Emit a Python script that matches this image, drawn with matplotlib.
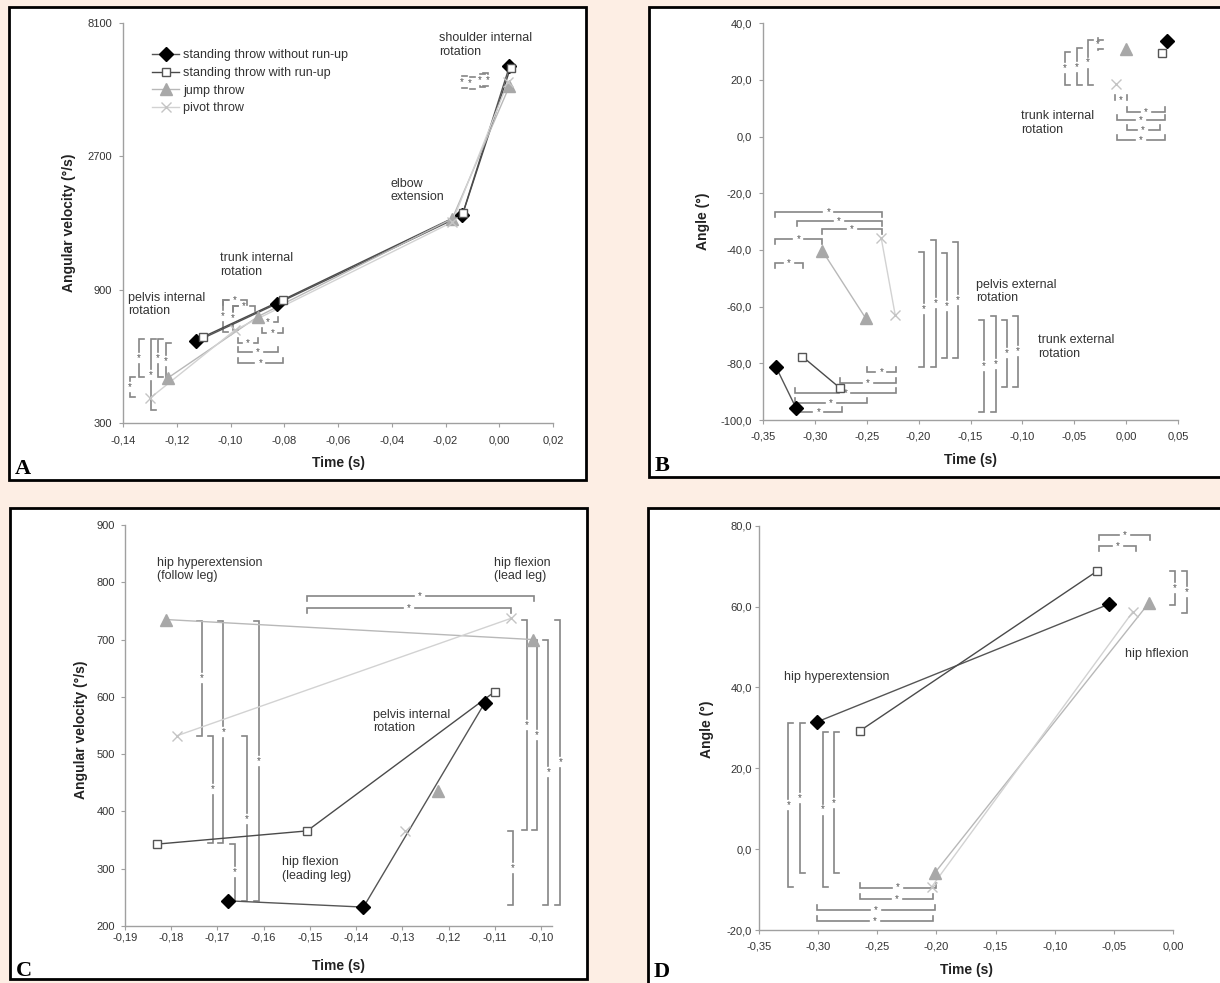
"""Peak angular velocities and joint angles for four handball throwing techniques."""

import matplotlib
matplotlib.use("Agg")
import matplotlib.pyplot as plt
import matplotlib.ticker as mticker
from matplotlib.patches import Rectangle
import numpy as np

W, H = 1220, 983
BG = "#fdeee4"
plt.rcParams.update({
    "font.family": ["Liberation Sans", "DejaVu Sans"],
    "font.size": 9,
    "axes.edgecolor": "#a0a0a0",
    "axes.linewidth": 1.0,
    "xtick.color": "#a0a0a0",
    "ytick.color": "#a0a0a0",
    "xtick.labelcolor": "#333333",
    "ytick.labelcolor": "#333333",
    "xtick.labelsize": 8,
    "ytick.labelsize": 8,
})

SERIES = ["standing throw without run-up", "standing throw with run-up",
          "jump throw", "pivot throw"]

# Panel A: pelvis, trunk, elbow, shoulder peak angular velocity
a_time_norun = [-0.1127, -0.0826, -0.0138, 0.0038]
a_vel_norun = [587, 802, 1661, 5683]
a_time_runup = [-0.1102, -0.0804, -0.0135, 0.0042]
a_vel_runup = [609, 828, 1690, 5620]
a_time_jump = [-0.1233, -0.0898, -0.0175, 0.0038]
a_vel_jump = [434, 720, 1615, 4830]
a_time_pivot = [-0.1300, -0.0983, -0.0175, 0.0033]
a_vel_pivot = [367, 645, 1570, 5000]

# Panel B: pelvis external rot., trunk external rot., trunk internal rot. (angle)
b_time_norun = [-0.3376, -0.3180, 0.0394]
b_ang_norun = [-81.2, -95.9, 33.9]
b_time_runup = [-0.3121, -0.2762, 0.0350]
b_ang_runup = [-77.6, -88.6, 29.4]
b_time_jump = [-0.2930, -0.2510, -0.0003]
b_ang_jump = [-40.2, -64.1, 30.8]
b_time_pivot = [-0.2360, -0.2226, -0.0100]
b_ang_pivot = [-35.9, -62.9, 18.6]

# Panel C: hip hyperextension (follow leg), hip flexion (lead leg), pelvis int. rot.
c_time_norun = [-0.1678, -0.1384, -0.1122]
c_vel_norun = [244, 233, 589]
c_time_runup = [-0.1830, -0.1506, -0.1100]
c_vel_runup = [343, 366, 609]
c_time_jump = [-0.1812, -0.1017, -0.1222]
c_vel_jump = [735, 700, 436]
c_time_pivot = [-0.1788, -0.1065, -0.1295]
c_vel_pivot = [532, 737, 366]

# Panel D: hip hyperextension, hip flexion (angle)
d_time_norun = [-0.3007, -0.0541]
d_ang_norun = [31.5, 60.6]
d_time_runup = [-0.2645, -0.0640]
d_ang_runup = [29.3, 68.8]
d_time_jump = [-0.2012, -0.0206]
d_ang_jump = [-5.8, 60.8]
d_time_pivot = [-0.2040, -0.0340]
d_ang_pivot = [-9.3, 58.7]

# significance brackets: (x0, y0, x1, y1, cap side)
a_brackets = [
    (-0.1374, 370, -0.1374, 439, 1), (-0.1340, 439, -0.1340, 597, 1),
    (-0.1296, 333, -0.1296, 597, 1), (-0.1271, 439, -0.1271, 597, 1),
    (-0.1241, 429, -0.1241, 580, 1),
    (-0.1028, 826, -0.0939, 826, -1), (-0.0991, 786, -0.0909, 786, -1),
    (-0.1028, 634, -0.1028, 826, 1), (-0.0991, 645, -0.0991, 786, 1),
    (-0.0898, 689, -0.0823, 689, 1), (-0.0883, 629, -0.0805, 629, 1),
    (-0.0972, 579, -0.0898, 579, 1), (-0.0972, 538, -0.0823, 538, 1),
    (-0.0972, 491, -0.0805, 491, 1),
    (-0.0140, 4740, -0.0140, 5250, 1), (-0.0109, 4700, -0.0109, 5190, 1),
    (-0.0072, 4800, -0.0072, 5320, 1), (-0.0041, 4830, -0.0041, 5365, -1),
]
b_brackets = [
    (-0.3384, -26.5, -0.2356, -26.5, -1), (-0.3175, -29.7, -0.2356, -29.7, -1),
    (-0.2934, -32.7, -0.2356, -32.7, -1), (-0.3384, -36.2, -0.2934, -36.2, -1),
    (-0.3384, -44.7, -0.3112, -44.7, -1),
    (-0.2501, -83.0, -0.2219, -83.0, 1), (-0.2758, -86.8, -0.2219, -86.8, 1),
    (-0.3192, -90.4, -0.2219, -90.4, 1), (-0.3192, -93.9, -0.2501, -93.9, 1),
    (-0.3192, -97.1, -0.2742, -97.1, 1),
    (-0.1946, -81.2, -0.1946, -40.6, -1), (-0.1836, -81.2, -0.1836, -36.5, -1),
    (-0.1730, -78.2, -0.1730, -41.2, -1), (-0.1618, -78.2, -0.1618, -37.1, -1),
    (-0.1368, -97.1, -0.1368, -64.7, -1), (-0.1258, -97.1, -0.1258, -63.3, -1),
    (-0.1152, -88.3, -0.1152, -64.7, -1), (-0.1040, -88.3, -0.1040, -63.3, -1),
    (-0.0590, 18.2, -0.0590, 30.0, 1), (-0.0478, 18.2, -0.0478, 31.2, 1),
    (-0.0366, 18.2, -0.0366, 34.1, 1), (-0.0273, 31.0, -0.0273, 34.1, 1),
    (-0.0109, 12.9, 0.0007, 12.9, 1), (0.0004, 8.8, 0.0373, 8.8, 1),
    (-0.0092, 5.9, 0.0373, 5.9, 1), (0.0004, 2.3, 0.0325, 2.3, 1),
    (-0.0092, -1.2, 0.0373, -1.2, 1),
]
c_brackets = [
    (-0.1734, 532, -0.1734, 733, -1), (-0.1687, 345, -0.1687, 733, -1),
    (-0.1610, 243, -0.1610, 733, -1), (-0.1710, 345, -0.1710, 532, -1),
    (-0.1637, 243, -0.1637, 532, -1), (-0.1662, 245, -0.1662, 343, -1),
    (-0.1507, 776, -0.1016, 776, -1), (-0.1507, 755, -0.1065, 755, -1),
    (-0.1030, 368, -0.1030, 734, -1), (-0.1008, 368, -0.1008, 699, -1),
    (-0.0984, 237, -0.0984, 699, -1), (-0.0958, 237, -0.0958, 734, -1),
    (-0.1060, 237, -0.1060, 365, -1),
]
d_brackets = [
    (-0.3252, -9.4, -0.3252, 31.1, 1), (-0.3153, -6.0, -0.3153, 31.1, 1),
    (-0.2961, -9.4, -0.2961, 29.0, 1), (-0.2866, -6.0, -0.2866, 29.0, 1),
    (-0.2646, -9.5, -0.2003, -9.5, 1), (-0.2646, -12.4, -0.2026, -12.4, 1),
    (-0.3007, -15.1, -0.2012, -15.1, 1), (-0.3007, -17.8, -0.2031, -17.8, 1),
    (-0.0623, 77.7, -0.0194, 77.7, -1), (-0.0623, 75.0, -0.0312, 75.0, -1),
    (0.0017, 60.4, 0.0017, 68.8, -1), (0.0116, 58.5, 0.0116, 68.8, -1),
]

STYLES = [
    dict(marker="D", ms=7, mfc="black", mec="black", color="#555555"),
    dict(marker="s", ms=6, mfc="white", mec="#555555", mew=1.0, color="#4a4a4a"),
    dict(marker="^", ms=8, mfc="#a8a8a8", mec="#a8a8a8", color="#b8b8b8"),
    dict(marker="x", ms=7, mec="#c4c4c4", mew=1.0, color="#d2d2d2"),
]


def comma_fmt(decimals):
    def fmt(v, _pos):
        v = round(v, 6) + 0.0
        return f"{v:.{decimals}f}".replace(".", ",")
    return mticker.FuncFormatter(fmt)


def panel_box(fig, left, top, right, bottom, letter, letter_base):
    fig.add_artist(Rectangle((left / W, 1 - bottom / H), (right - left) / W,
                             (bottom - top) / H, transform=fig.transFigure,
                             facecolor="white", edgecolor="black", lw=2, zorder=-1))
    fig.text((left + 6) / W, 1 - letter_base / H, letter, family="Liberation Serif",
             weight="bold", fontsize=16, ha="left", va="baseline")


def panel_axes(fig, left, top, right, bottom):
    ax = fig.add_axes([left / W, 1 - bottom / H, (right - left) / W, (bottom - top) / H])
    ax.patch.set_visible(False)
    for side in ("top", "right"):
        ax.spines[side].set_visible(False)
    ax.tick_params(direction="out", length=3, width=0.8)
    return ax


def series(ax, times, values, n_line):
    for (t, v), n, style, label in zip(zip(times, values), n_line, STYLES, SERIES):
        ax.plot(t[:n], v[:n], "-", lw=1.0, color=style["color"], zorder=2)
        kw = {k: val for k, val in style.items() if k != "color"}
        ax.plot(t, v, ls="none", zorder=3, label=label, **kw)


def bracket(ax, x0, y0, x1, y1, cap, cap_px=5, gap_px=6):
    to_px = ax.transData.transform
    to_data = ax.transData.inverted().transform
    p0, p1 = to_px((x0, y0)), to_px((x1, y1))
    d = p1 - p0
    u = d / np.hypot(*d)
    vertical = abs(d[1]) > abs(d[0])
    n = np.array([cap * cap_px, 0.0]) if vertical else np.array([0.0, cap * cap_px])
    m = (p0 + p1) / 2
    for seg in ([p0 + n, p0, m - gap_px * u], [m + gap_px * u, p1, p1 + n]):
        pts = to_data(np.array(seg))
        ax.plot(pts[:, 0], pts[:, 1], color="#858585", lw=1.2, clip_on=False,
                solid_joinstyle="miter", zorder=1)
    mx, my = to_data(m)
    ax.text(mx, my, "*", fontsize=7, color="#555555", ha="center", va="center",
            zorder=1)


def labels(ax, xlabel, ylabel, xl_y, yl_x, yl_y=0.5):
    ax.text(0.5, xl_y, xlabel, transform=ax.transAxes, ha="center", va="center",
            fontsize=10, weight="bold", color="#222222")
    ax.text(yl_x, yl_y, ylabel, transform=ax.transAxes, ha="center", va="center",
            rotation=90, fontsize=10, weight="bold", color="#222222")


def note(ax, x, y, s):
    ax.text(x, y, s, transform=ax.transAxes, ha="left", va="center",
            fontsize=9, color="#333333", linespacing=1.15)


fig = plt.figure(figsize=(W / 100, H / 100), dpi=100, facecolor=BG)

panel_box(fig, 9, 7, 586, 480, "A", 474)
panel_box(fig, 649, 7, 1224, 477, "B", 471)
panel_box(fig, 10, 508, 587, 979, "C", 976)
panel_box(fig, 648, 508, 1224, 988, "D", 977)

# ---- A
ax = panel_axes(fig, 123, 23.3, 553, 422.7)
ax.set_yscale("log", base=3)
ax.set_xlim(-0.14, 0.02)
ax.set_ylim(300, 8100)
ax.set_xticks(np.arange(-0.14, 0.021, 0.02))
ax.xaxis.set_major_formatter(comma_fmt(2))
ax.set_yticks([300, 900, 2700, 8100])
ax.yaxis.set_major_formatter(mticker.FuncFormatter(lambda v, _p: f"{v:.0f}"))
ax.yaxis.set_minor_locator(mticker.NullLocator())
ax.tick_params(axis="x", pad=6.5)
ax.tick_params(axis="y", pad=5)
series(ax, [a_time_norun, a_time_runup, a_time_jump, a_time_pivot],
       [a_vel_norun, a_vel_runup, a_vel_jump, a_vel_pivot], [4, 4, 4, 4])
for b in a_brackets:
    bracket(ax, *b)
labels(ax, "Time (s)", "Angular velocity (°/s)", -0.101, -0.126)
note(ax, 0.735, 0.946, "shoulder internal\nrotation")
note(ax, 0.623, 0.581, "elbow\nextension")
note(ax, 0.226, 0.395, "trunk internal\nrotation")
note(ax, 0.012, 0.296, "pelvis internal\nrotation")
handles = [plt.Line2D([], [], lw=1.0, **s) for s in STYLES]
ax.legend(handles, SERIES, loc="upper left", bbox_to_anchor=(0.067, 0.935),
          frameon=False, borderpad=0, borderaxespad=0, handlelength=2.2,
          handletextpad=0.3, labelspacing=0.45, fontsize=9, labelcolor="#333333")

# ---- B
ax = panel_axes(fig, 763, 23.3, 1178, 420)
ax.set_xlim(-0.35, 0.05)
ax.set_ylim(-100, 40)
ax.set_xticks(np.arange(-0.35, 0.051, 0.05))
ax.set_yticks(np.arange(-100, 41, 20))
ax.xaxis.set_major_formatter(comma_fmt(2))
ax.yaxis.set_major_formatter(comma_fmt(1))
ax.tick_params(axis="x", pad=5.5)
ax.tick_params(axis="y", pad=5)
series(ax, [b_time_norun, b_time_runup, b_time_jump, b_time_pivot],
       [b_ang_norun, b_ang_runup, b_ang_jump, b_ang_pivot], [2, 2, 2, 2])
for b in b_brackets:
    bracket(ax, *b)
labels(ax, "Time (s)", "Angle (°)", -0.101, -0.144)
note(ax, 0.622, 0.749, "trunk internal\nrotation")
note(ax, 0.513, 0.324, "pelvis external\nrotation")
note(ax, 0.663, 0.184, "trunk external\nrotation")

# ---- C
ax = panel_axes(fig, 125, 525, 552.5, 926)
ax.set_xlim(-0.19, -0.0975)
ax.set_ylim(200, 900)
ax.set_xticks(np.arange(-0.19, -0.0995, 0.01))
ax.set_yticks(np.arange(200, 901, 100))
ax.xaxis.set_major_formatter(comma_fmt(2))
ax.tick_params(axis="x", pad=1.5)
ax.tick_params(axis="y", pad=4)
series(ax, [c_time_norun, c_time_runup, c_time_jump, c_time_pivot],
       [c_vel_norun, c_vel_runup, c_vel_jump, c_vel_pivot], [3, 3, 2, 2])
for b in c_brackets:
    bracket(ax, *b)
labels(ax, "Time (s)", "Angular velocity (°/s)", -0.1, -0.104, 0.489)
note(ax, 0.074, 0.889, "hip hyperextension\n(follow leg)")
note(ax, 0.862, 0.889, "hip flexion\n(lead leg)")
note(ax, 0.581, 0.51, "pelvis internal\nrotation")
note(ax, 0.367, 0.142, "hip flexion\n(leading leg)")

# ---- D
ax = panel_axes(fig, 759, 525.7, 1173, 930)
ax.set_xlim(-0.35, 0.0)
ax.set_ylim(-20, 80)
ax.set_xticks(np.arange(-0.35, 0.001, 0.05))
ax.set_yticks(np.arange(-20, 81, 20))
ax.xaxis.set_major_formatter(comma_fmt(2))
ax.yaxis.set_major_formatter(comma_fmt(1))
ax.tick_params(axis="x", pad=5.5)
ax.tick_params(axis="y", pad=2)
series(ax, [d_time_norun, d_time_runup, d_time_jump, d_time_pivot],
       [d_ang_norun, d_ang_runup, d_ang_jump, d_ang_pivot], [2, 2, 2, 2])
for b in d_brackets:
    bracket(ax, *b)
labels(ax, "Time (s)", "Angle (°)", -0.099, -0.126, 0.497)
note(ax, 0.060, 0.625, "hip hyperextension")
note(ax, 0.884, 0.683, "hip hflexion")

fig.savefig("out.png", dpi=100, facecolor=BG)
